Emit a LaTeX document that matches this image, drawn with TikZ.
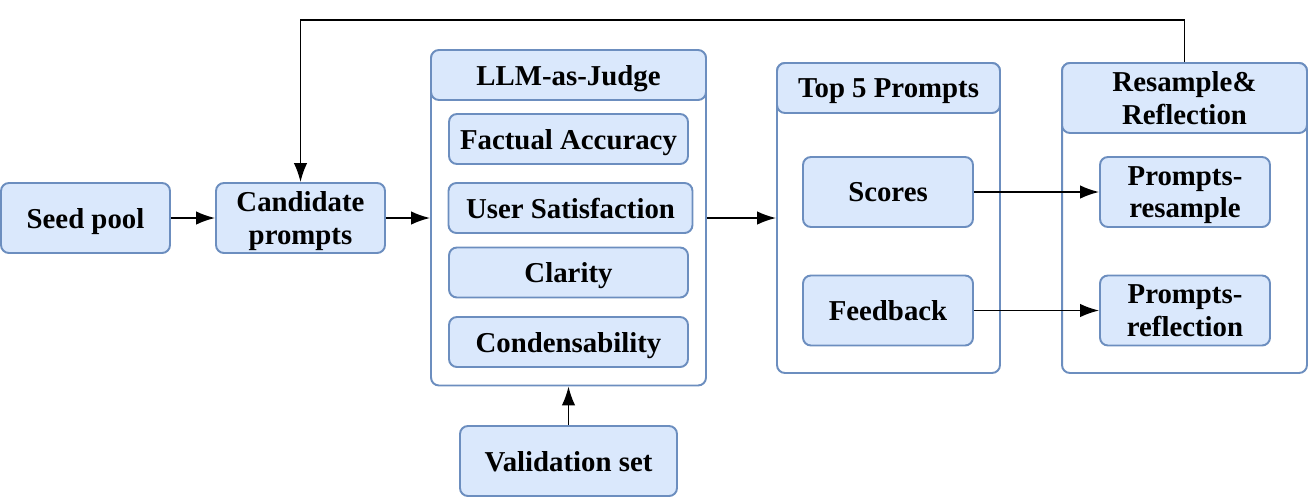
\documentclass[tikz,border=0pt]{standalone}
\usepackage{fontspec}
\setmainfont{Liberation Serif}
\usetikzlibrary{arrows.meta}
\definecolor{boxfill}{HTML}{DAE8FC}
\definecolor{boxline}{HTML}{6C8EBF}

\begin{document}
\begin{tikzpicture}[
		x=0.02cm, y=-0.02cm,
		>=latex,
		box/.style={draw=boxline, fill=boxfill, line width=1.1pt, rounded corners=4.5pt,
			inner sep=0pt, align=center, text depth=0pt,
			font=\fontsize{16.4}{18.5}\selectfont\bfseries},
		panel/.style={box, fill=white},
		flow/.style={-{Latex[length=3.8mm, width=2.7mm]}, line width=0.95pt},
	]
	\useasboundingbox (0,0) rectangle (1308,498);
	% input side
	\node[box, minimum width=3.38cm, minimum height=1.4cm] (seed) at (85.5,218) {Seed pool};
	\node[box, minimum width=3.38cm, minimum height=1.4cm] (cand) at (300.5,218) {Candidate\\prompts};
	% judge panel
	\node[panel, minimum width=5.5cm, minimum height=6.7cm] (judge) at (568.5,218) {};
	\node[box, minimum width=5.5cm, minimum height=1.0cm] (judgehead) at (568.5,75) {LLM-as-Judge};
	\node[box, minimum width=4.78cm, minimum height=1.0cm] (fact) at (568.5,139) {Factual Accuracy};
	\node[box, minimum width=4.88cm, minimum height=1.0cm] (user) at (570.5,208) {User Satisfaction};
	\node[box, minimum width=4.78cm, minimum height=1.0cm] (clar) at (568.5,272.5) {Clarity};
	\node[box, minimum width=4.78cm, minimum height=1.0cm] (cond) at (568.5,342) {Condensability};
	\node[box, minimum width=4.34cm, minimum height=1.4cm] (valid) at (568.5,461) {Validation set};
	% top 5 panel
	\node[panel, minimum width=4.46cm, minimum height=6.2cm] (top) at (888.5,218) {};
	\node[box, minimum width=4.46cm, minimum height=1.0cm] (tophead) at (888.5,88) {Top 5 Prompts};
	\node[box, minimum width=3.4cm, minimum height=1.4cm] (score) at (888,192) {Scores};
	\node[box, minimum width=3.4cm, minimum height=1.4cm] (feed) at (888,310.5) {Feedback};
	% resample panel
	\node[panel, minimum width=4.9cm, minimum height=6.2cm] (resa) at (1184.5,218) {};
	\node[box, minimum width=4.9cm, minimum height=1.4cm] (resahead) at (1184.5,98) {Resample\&\\Reflection};
	\node[box, minimum width=3.4cm, minimum height=1.4cm] (presa) at (1185,192) {Prompts-\\resample};
	\node[box, minimum width=3.4cm, minimum height=1.4cm] (prefl) at (1185,310.5) {Prompts-\\reflection};
	% connectors
	\coordinate (loop) at (0,20);
	\draw[flow] (seed) -- (cand);
	\draw[flow] (cand) -- (judge);
	\draw[flow] (judge) -- (top);
	\draw[flow] (valid) -- (judge.south);
	\draw[flow] (score) -- (presa);
	\draw[flow] (feed) -- (prefl);
	\draw[flow] (resahead.north) -- (resahead.north |- loop) -| (cand.north);
\end{tikzpicture}
\end{document}
